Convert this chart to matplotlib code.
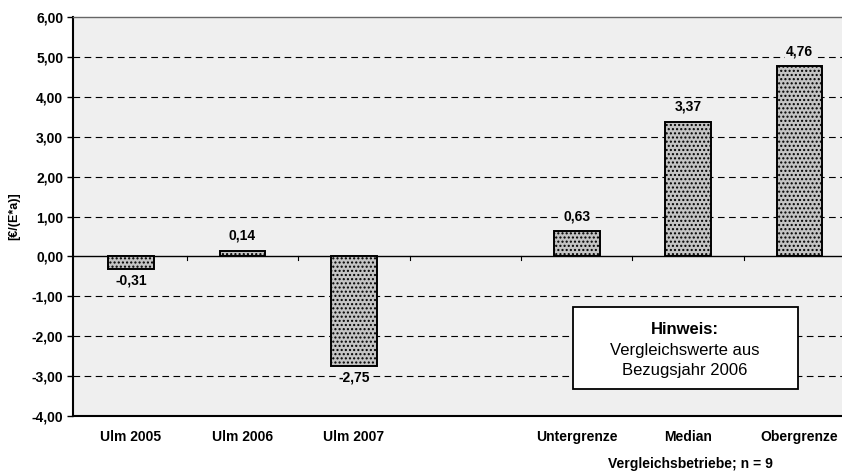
import matplotlib.pyplot as plt
from matplotlib.ticker import FuncFormatter

# Data
categories = ['Ulm 2005', 'Ulm 2006', 'Ulm 2007', '', 'Untergrenze', 'Median', 'Obergrenze']
values = [-0.31, 0.14, -2.75, None, 0.63, 3.37, 4.76]
value_labels = ['-0,31', '0,14', '-2,75', '', '0,63', '3,37', '4,76']
y_ticks = [-4, -3, -2, -1, 0, 1, 2, 3, 4, 5, 6]

plt.rcParams['font.family'] = ['Liberation Sans', 'DejaVu Sans']
bg = '#efefef'

fig = plt.figure(figsize=(8.42, 4.75), dpi=100)
ax = fig.add_axes([0.0867, 0.1242, 0.9133, 0.84])
ax.set_facecolor(bg)

xs = [i for i, v in enumerate(values) if v is not None]
vs = [v for v in values if v is not None]
ax.bar(xs, vs, width=0.41, color='#c4c4c4', edgecolor='black',
       linewidth=1.4, hatch='....', zorder=3)

for x, v in zip(xs, vs):
    lab = value_labels[x]
    box = dict(facecolor=bg, edgecolor='none', pad=1.0)
    if v >= 0:
        ax.text(x, v + 0.2, lab, ha='center', va='bottom', fontsize=10,
                fontweight='bold', zorder=4, bbox=box)
    else:
        ax.text(x, v - 0.12, lab, ha='center', va='top', fontsize=10,
                fontweight='bold', zorder=4, bbox=box)

# gridlines
for t in y_ticks:
    if t in (0, -4, 6):
        continue
    ax.axhline(t, color='black', linestyle=(0, (6, 4)), linewidth=0.8, zorder=1)
ax.axhline(0, color='black', linewidth=1.0, zorder=2)
# small ticks on the zero line at category boundaries
for b in range(len(categories) - 1):
    ax.plot([b + 0.5, b + 0.5], [0, -0.1], color='black', linewidth=0.8, zorder=2)

ax.set_xlim(-0.52, 6.38)
ax.set_ylim(-4, 6)
ax.set_yticks(y_ticks)
ax.yaxis.set_major_formatter(FuncFormatter(lambda v, p: f'{v:.2f}'.replace('.', ',')))
ax.set_xticks(range(len(categories)))
ax.set_xticklabels(categories)
ax.tick_params(axis='x', length=0, pad=10)
ax.tick_params(axis='y', length=4, width=1, direction='out', pad=3)
for lab in ax.get_xticklabels() + ax.get_yticklabels():
    lab.set_fontweight('bold')
    lab.set_fontsize(10)

ax.spines['left'].set_linewidth(1.5)
ax.spines['bottom'].set_linewidth(1.5)
ax.spines['top'].set_color('#666666')
ax.spines['top'].set_linewidth(1.0)
ax.spines['right'].set_visible(False)

ax.set_ylabel('[€/(E*a)]', fontsize=9, fontweight='bold', labelpad=8)

fig.text(0.82, 0.015, 'Vergleichsbetriebe; n = 9', ha='center', fontsize=10,
         fontweight='bold')

# note box
ax.add_patch(plt.Rectangle((3.964, -3.33), 2.02, 2.05, facecolor='white',
                           edgecolor='black', linewidth=1.3, zorder=5))
ax.text(4.97, -1.82, 'Hinweis:', ha='center', va='center', fontsize=12,
        fontweight='bold', zorder=6)
ax.text(4.97, -2.35, 'Vergleichswerte aus', ha='center', va='center',
        fontsize=12, zorder=6)
ax.text(4.97, -2.87, 'Bezugsjahr 2006', ha='center', va='center',
        fontsize=12, zorder=6)

fig.savefig('out.png', dpi=100)
